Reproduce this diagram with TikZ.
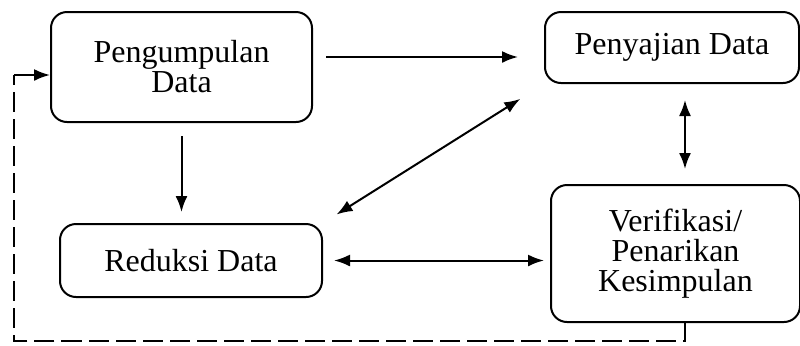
\documentclass[tikz,border=0pt]{standalone}
\usepackage{fontspec}
\setmainfont{Liberation Serif}
\usetikzlibrary{positioning,arrows.meta}
\begin{document}
\begin{tikzpicture}[line width=1pt,>={Latex[length=8pt,width=6pt]},
	box/.style={draw, rounded corners=8pt, align=center, inner sep=0pt, font=\fontsize{16}{15}\selectfont}]
		\useasboundingbox (0,0) rectangle (400pt,-172.5pt);
		\node (kumpul) [box, minimum width=130.5pt, minimum height=55pt] at (90.75pt,-33.5pt) {Pengumpulan\\Data};
		\node (saji) [box, minimum width=127pt, minimum height=35.5pt, right=115.5pt of kumpul, yshift=9.75pt] {Penyajian Data};
		\node (reduksi) [box, minimum width=131pt, minimum height=36.5pt, below=50pt of kumpul, xshift=4.75pt] {Reduksi Data};
		\node (verif) [box, minimum width=124.5pt, minimum height=68.5pt, below=50pt of saji, xshift=1.75pt] {Verifikasi/\\Penarikan\\Kesimpulan};
		\coordinate (balik) at ([xshift=-18pt,yshift=-4pt]kumpul.west);
		\draw[->, shorten <=6.5pt, shorten >=13pt] ([yshift=5pt]kumpul.east) -- ([yshift=5pt]kumpul.east -| saji.west);
		\draw[->, shorten <=6.5pt, shorten >=5.5pt] (kumpul.south) -- (kumpul.south |- reduksi.north);
		\draw[<->, shorten <=8pt, shorten >=14pt] (reduksi.north east) -- (saji.south west);
		\draw[<->, shorten <=8pt, shorten >=7.5pt] ([xshift=6.5pt]saji.south) -- ([xshift=6.5pt]saji.south |- verif.north);
		\draw[<->, shorten <=5.5pt, shorten >=3pt] (reduksi.east) -- (reduksi.east -| verif.west);
		\draw[dash pattern=on 10pt off 3.5pt] ([xshift=4.5pt]verif.south) -- ++(0,-9pt) -| (balik);
		\draw[->] (balik) -- ([yshift=-4pt]kumpul.west);
		\end{tikzpicture}
\end{document}
